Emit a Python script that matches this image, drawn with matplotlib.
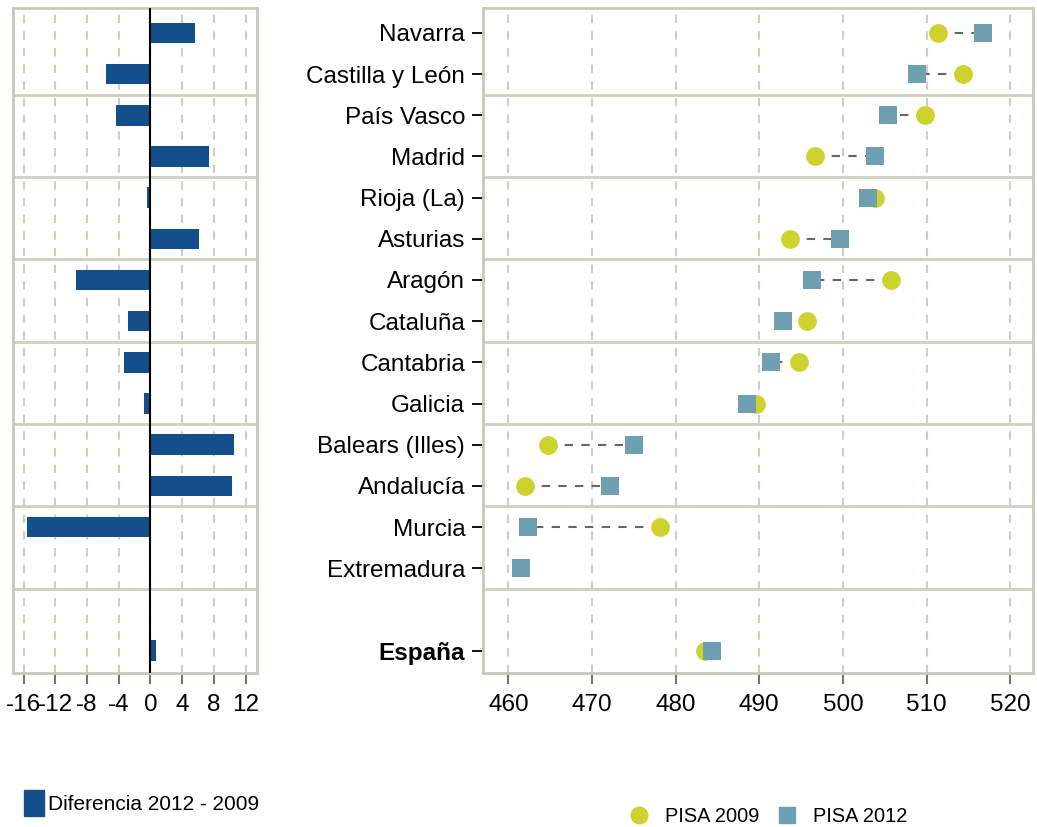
import matplotlib
matplotlib.use("Agg")
import matplotlib.pyplot as plt
from matplotlib.lines import Line2D
from matplotlib.patches import Patch

plt.rcParams['font.family'] = ['Liberation Sans', 'DejaVu Sans']

# datos
regiones = ["Navarra", "Castilla y León", "País Vasco", "Madrid", "Rioja (La)",
            "Asturias", "Aragón", "Cataluña", "Cantabria", "Galicia",
            "Balears (Illes)", "Andalucía", "Murcia", "Extremadura", "", "España"]
pisa_2009 = [511.4, 514.4, 509.8, 496.6, 503.8, 493.7, 505.8, 495.7, 494.7, 489.6,
             464.7, 462.0, 478.1, None, None, 483.5]
pisa_2012 = [516.7, 508.8, 505.4, 503.8, 503.0, 499.7, 496.3, 492.8, 491.4, 488.5,
             475.0, 472.1, 462.4, 461.5, None, 484.4]
diferencia = [5.6, -5.6, -4.3, 7.4, -0.5, 6.1, -9.4, -2.9, -3.3, -0.8,
              10.5, 10.3, -15.6, None, None, 0.7]

ticks_dif = [-16, -12, -8, -4, 0, 4, 8, 12]
ticks_pisa = [460, 470, 480, 490, 500, 510, 520]

c_bar = "#124F8B"
c_2009 = "#CDD22E"
c_2012 = "#6FA0B2"
c_grid = "#CFCFC2"
c_frame = "#C9C9BA"

fig = plt.figure(figsize=(10.37, 8.27), dpi=100)
ax1 = fig.add_axes([0.0125, 0.186, 0.235, 0.804])
ax2 = fig.add_axes([0.466, 0.186, 0.530, 0.804])

filas = list(range(len(regiones)))


def estilo(ax):
    for s in ax.spines.values():
        s.set_color(c_frame)
        s.set_linewidth(2)
    ax.set_ylim(15.55, -0.6)
    ax.grid(axis="x", color=c_grid, linestyle=(0, (4, 4)), linewidth=1.5)
    ax.set_axisbelow(True)
    for y in [1.5, 3.5, 5.5, 7.5, 9.5, 11.5, 13.5]:
        ax.axhline(y, color=c_grid, linewidth=2, zorder=1)
    ax.tick_params(axis="x", direction="out", length=8, width=1.5,
                   color="#777777", labelsize=17.5, pad=7)


# panel izquierdo: diferencias
estilo(ax1)
for i, d in zip(filas, diferencia):
    if d is not None:
        ax1.barh(i, d, height=0.5, color=c_bar, zorder=3)
ax1.axvline(0, color="black", linewidth=1.5, zorder=4)
ax1.set_xlim(-17.36, 13.4)
ax1.set_xticks(ticks_dif)
ax1.set_xticklabels([str(t) for t in ticks_dif])
ax1.set_yticks([])

# panel derecho: PISA 2009 vs 2012
estilo(ax2)
for i, a, b in zip(filas, pisa_2009, pisa_2012):
    if a is not None and b is not None:
        ax2.plot([a, b], [i, i], color="#666666", linestyle=(0, (4, 4)),
                 linewidth=1.5, zorder=3)
    if a is not None:
        ax2.plot(a, i, "o", color=c_2009, markersize=13.5, markeredgewidth=0, zorder=4)
    if b is not None:
        ax2.plot(b, i, "s", color=c_2012, markersize=13, markeredgewidth=0, zorder=5)
ax2.set_xlim(457.0, 522.7)
ax2.set_xticks(ticks_pisa)
ax2.set_yticks([i for i in filas if regiones[i]])
ax2.set_yticklabels([r for r in regiones if r], fontsize=17.5)
ax2.tick_params(axis="y", direction="out", length=8, width=1.3, color="black", pad=5)
for lab in ax2.get_yticklabels():
    if lab.get_text() == "España":
        lab.set_fontweight("bold")

# leyendas
fig.legend(handles=[Patch(color=c_bar, label="Diferencia 2012 - 2009")],
           loc="center left", bbox_to_anchor=(0.005, 0.029), frameon=False,
           fontsize=15, handlelength=0.95, handleheight=1.5, handletextpad=0.2)
fig.legend(handles=[Line2D([], [], marker="o", color=c_2009, linestyle="none",
                           markersize=12, label="PISA 2009"),
                    Line2D([], [], marker="s", color=c_2012, linestyle="none",
                           markersize=12, label="PISA 2012"),],
           loc="center left", bbox_to_anchor=(0.58, 0.013), frameon=False,
           fontsize=14.4, ncol=2, handletextpad=0.3, columnspacing=0.35)

fig.savefig("out.png", dpi=100)
